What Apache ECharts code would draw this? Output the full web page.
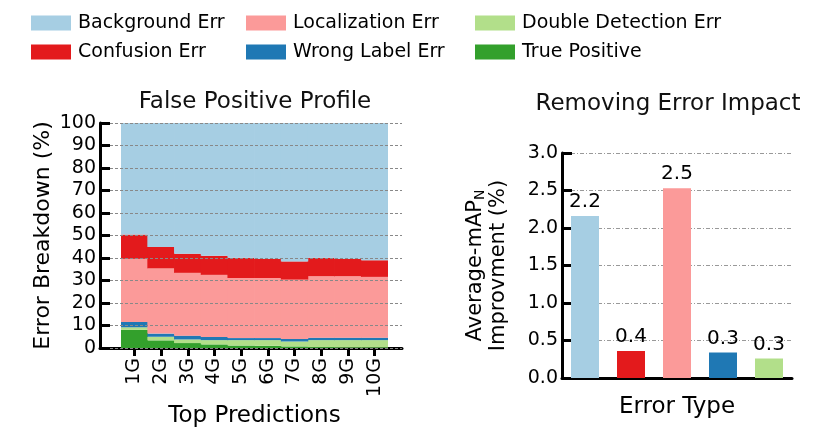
<!DOCTYPE html>
<html>
<head>
<meta charset="UTF-8">
<title>False Positive Profile</title>
<script src="https://cdn.jsdelivr.net/npm/echarts@6/dist/echarts.min.js"></script>
<style>
  html, body { margin: 0; padding: 0; background: #fff; }
  #chart { width: 830px; height: 441px; }
</style>
</head>
<body>
<div id="chart"></div>
<script>
// top-N predictions on the left panel
const predictions = ['1G', '2G', '3G', '4G', '5G', '6G', '7G', '8G', '9G', '10G'];
// stacked shares (%), bottom to top
const truePositive = [8.1, 3.4, 2.2, 1.6, 1.1, 1.0, 0.7, 0.4, 0.3, 0.3];
const doubleDetection = [1.1, 1.6, 1.6, 1.9, 2.4, 2.5, 2.2, 3.1, 3.2, 3.2];
const wrongLabel = [2.4, 1.4, 1.7, 1.4, 0.9, 0.9, 1.1, 1.1, 1.1, 1.1];
const localization = [28.0, 29.0, 27.9, 27.6, 26.7, 26.7, 26.4, 27.3, 27.3, 27.0];
const confusion = [10.8, 9.5, 8.5, 8.5, 9.0, 8.5, 8.1, 8.2, 7.7, 7.4];
const background = [49.6, 55.1, 58.1, 59.0, 59.9, 60.4, 61.5, 59.9, 60.4, 61.0];

// right panel
const errorTypes = ['Background Err', 'Confusion Err', 'Localization Err', 'Wrong Label Err', 'Double Detection Err'];
const improvement = [2.16, 0.36, 2.53, 0.34, 0.26];

const colors = {
    'Background Err': '#a6cee3',
    'Confusion Err': '#e31a1c',
    'Localization Err': '#fb9a99',
    'Wrong Label Err': '#1f78b4',
    'Double Detection Err': '#b2df8a',
    'True Positive': '#33a02c'
};

const font = 'DejaVu Sans';

function stackSeries(name, values) {
    return {
        name: name,
        type: 'bar',
        stack: 'fp',
        xAxisIndex: 1,
        yAxisIndex: 1,
        barWidth: 27.4, // a hair wider than the band so neighbours don't leave seams
        itemStyle: { color: colors[name] },
        emphasis: { disabled: true },
        data: values
    };
}

function legendCol(left, names) {
    return {
        orient: 'vertical',
        left: left,
        top: 8,
        icon: 'rect',
        itemWidth: 40,
        itemHeight: 15,
        itemGap: 9,
        selectedMode: false,
        textStyle: { fontFamily: font, fontSize: 19, color: '#000', padding: [0, 0, 0, 2], lineHeight: 20 },
        data: names
    };
}

const axisLine = { show: true, lineStyle: { color: '#000', width: 3 } };
const hidden = { show: false };

const chart = echarts.init(document.getElementById('chart'));

chart.setOption({
    animation: false,
    textStyle: { fontFamily: font },
    legend: [
        legendCol(26, ['Background Err', 'Confusion Err']),
        legendCol(241, ['Localization Err', 'Wrong Label Err']),
        legendCol(470, ['Double Detection Err', 'True Positive'])
    ],
    title: [
        { text: 'False Positive Profile', left: 250, top: 86, textAlign: 'center',
          textStyle: { fontFamily: font, fontSize: 23, fontWeight: 'normal', color: '#111' } },
        { text: 'Removing Error Impact', left: 663, top: 88, textAlign: 'center',
          textStyle: { fontFamily: font, fontSize: 23, fontWeight: 'normal', color: '#111' } }
    ],
    grid: [
        // frame of the left panel (axis lines, grid lines)
        { left: 100, top: 123, width: 302, height: 225 },
        // bars of the left panel
        { left: 121, top: 123, width: 267, height: 225 },
        // right panel
        { left: 562, top: 153, width: 230, height: 225 }
    ],
    xAxis: [
        {
            gridIndex: 0,
            type: 'value',
            min: 0,
            max: 1,
            axisLine: axisLine,
            axisTick: hidden,
            axisLabel: hidden,
            splitLine: hidden
        },
        {
            gridIndex: 1,
            type: 'category',
            data: predictions,
            name: 'Top Predictions',
            nameLocation: 'middle',
            nameGap: 52,
            nameTextStyle: { fontFamily: font, fontSize: 23, color: '#000' },
            axisLine: hidden,
            axisTick: { show: true, alignWithLabel: true, length: 8, lineStyle: { color: '#000', width: 3 } },
            axisLabel: { rotate: 90, margin: 10, fontFamily: font, fontSize: 19, color: '#000' }
        },
        {
            gridIndex: 2,
            type: 'category',
            data: errorTypes,
            name: 'Error Type',
            nameLocation: 'middle',
            nameGap: 18,
            nameTextStyle: { fontFamily: font, fontSize: 23, color: '#000' },
            axisLine: axisLine,
            axisTick: hidden,
            axisLabel: hidden
        }
    ],
    yAxis: [
        {
            gridIndex: 0,
            type: 'value',
            min: 0,
            max: 100,
            interval: 10,
            z: 5,
            name: 'Error Breakdown (%)',
            nameLocation: 'middle',
            nameGap: 46,
            nameTextStyle: { fontFamily: font, fontSize: 22, color: '#000' },
            axisLine: axisLine,
            axisTick: { show: true, inside: true, length: 10, lineStyle: { color: '#000', width: 3 } },
            axisLabel: { fontFamily: font, fontSize: 19, color: '#000', margin: 4 },
            splitLine: { show: true, lineStyle: { color: '#888', width: 1, type: [3, 2] } }
        },
        {
            gridIndex: 1,
            type: 'value',
            min: 0,
            max: 100,
            interval: 10,
            axisLine: hidden,
            axisTick: hidden,
            axisLabel: hidden,
            splitLine: hidden
        },
        {
            gridIndex: 2,
            type: 'value',
            min: 0,
            max: 3,
            interval: 0.5,
            name: '{a|Average-mAP}{s|N}\n{a|Improvment (%)}',
            nameLocation: 'middle',
            nameGap: 52,
            nameTextStyle: {
                fontFamily: font,
                fontSize: 21,
                color: '#000',
                rich: {
                    a: { fontFamily: font, fontSize: 21, color: '#000', lineHeight: 23 },
                    s: { fontFamily: font, fontSize: 14, color: '#000', lineHeight: 23, verticalAlign: 'bottom' }
                }
            },
            axisLine: axisLine,
            axisTick: { show: true, inside: true, length: 10, lineStyle: { color: '#000', width: 3 } },
            axisLabel: { fontFamily: font, fontSize: 19, color: '#000', margin: 4, formatter: v => v.toFixed(1) },
            splitLine: { show: true, lineStyle: { color: '#999', width: 1, type: [4, 2, 1, 2] } }
        }
    ],
    series: [
        stackSeries('True Positive', truePositive),
        stackSeries('Double Detection Err', doubleDetection),
        stackSeries('Wrong Label Err', wrongLabel),
        stackSeries('Localization Err', localization),
        stackSeries('Confusion Err', confusion),
        stackSeries('Background Err', background),
        {
            name: 'Removing Error Impact',
            type: 'bar',
            xAxisIndex: 2,
            yAxisIndex: 2,
            barWidth: 28,
            emphasis: { disabled: true },
            label: {
                show: true,
                position: 'top',
                distance: 4,
                fontFamily: font,
                fontSize: 20,
                color: '#000',
                formatter: p => p.value.toFixed(1)
            },
            data: improvement.map((v, i) => ({ value: v, itemStyle: { color: colors[errorTypes[i]] } }))
        }
    ]
});
</script>
</body>
</html>
